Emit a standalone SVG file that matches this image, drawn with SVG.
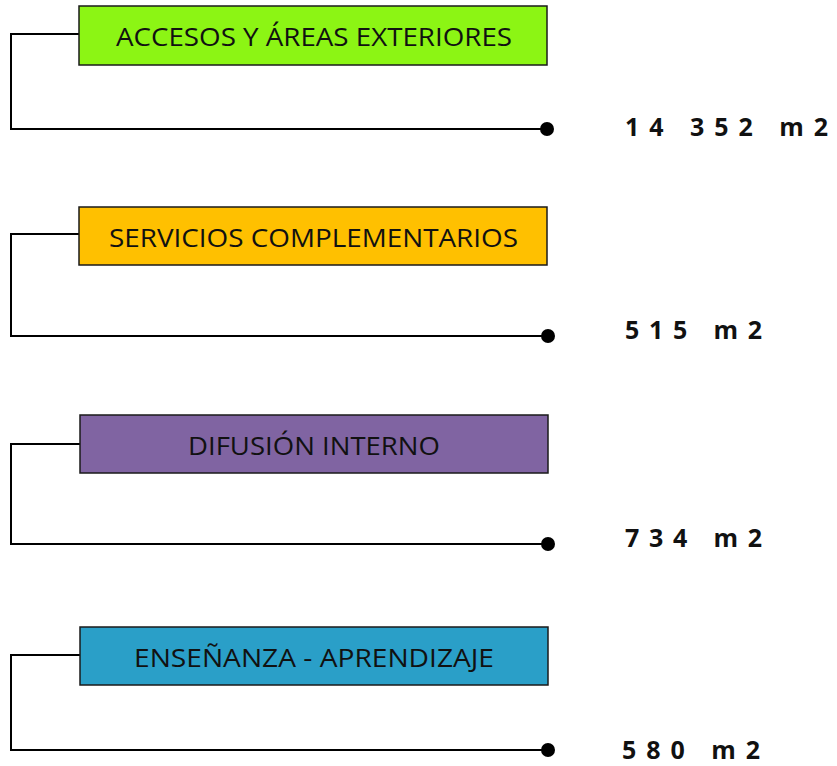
<svg xmlns="http://www.w3.org/2000/svg" width="837" height="766" viewBox="0 0 837 766">
<style>
.box{stroke:#1a1a1a;stroke-width:1.5}
.lbl{font-family:"Open Sans","Liberation Sans",sans-serif;font-size:25px;fill:#111;text-anchor:start}
.num{font-family:"Open Sans","Liberation Sans",sans-serif;font-size:25px;font-weight:bold;fill:#111;white-space:pre}
.con{fill:none;stroke:#000;stroke-width:2}
.dot{fill:#000}
</style>
<rect width="837" height="766" fill="#fff"/>
<g id="connectors">
<path class="con" d="M79,34 H11 V129 H547"/>
<path class="con" d="M79,234 H11 V336 H547"/>
<path class="con" d="M80,444 H11 V544 H547"/>
<path class="con" d="M80,655 H11 V750 H547"/>
<circle class="dot" cx="547" cy="129" r="7"/>
<circle class="dot" cx="548" cy="336" r="7"/>
<circle class="dot" cx="548" cy="544" r="7"/>
<circle class="dot" cx="548" cy="750" r="7"/>
</g>
<g id="n1">
<rect class="box" x="79" y="6" width="468" height="59" fill="#8CF514"/>
<text class="lbl" x="116" y="46" textLength="396" lengthAdjust="spacingAndGlyphs">ACCESOS Y ÁREAS EXTERIORES</text>
</g>
<g id="n2">
<rect class="box" x="79" y="207" width="468" height="58" fill="#FFC000"/>
<text class="lbl" x="109" y="247" textLength="409" lengthAdjust="spacingAndGlyphs">SERVICIOS COMPLEMENTARIOS</text>
</g>
<g id="n3">
<rect class="box" x="80" y="415" width="468" height="58" fill="#8064A2"/>
<text class="lbl" x="188" y="455" textLength="252" lengthAdjust="spacingAndGlyphs">DIFUSIÓN INTERNO</text>
</g>
<g id="n4">
<rect class="box" x="80" y="627" width="468" height="58" fill="#2A9FC8"/>
<text class="lbl" x="134" y="667" textLength="360" lengthAdjust="spacingAndGlyphs">ENSEÑANZA - APRENDIZAJE</text>
</g>
<g id="v1"><text class="num" x="625" y="136" textLength="203" lengthAdjust="spacing" xml:space="preserve">1 4   3 5 2   m 2</text></g>
<g id="v2"><text class="num" x="625" y="339" textLength="137" lengthAdjust="spacing" xml:space="preserve">5 1 5   m 2</text></g>
<g id="v3"><text class="num" x="625" y="547" textLength="137" lengthAdjust="spacing" xml:space="preserve">7 3 4   m 2</text></g>
<g id="v4"><text class="num" x="622" y="759" textLength="138" lengthAdjust="spacing" xml:space="preserve">5 8 0   m 2</text></g>
</svg>
